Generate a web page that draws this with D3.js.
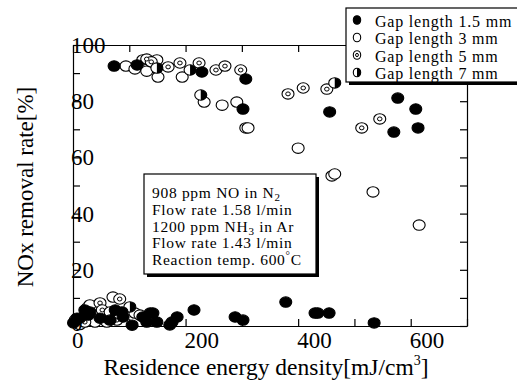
<!DOCTYPE html>
<html>
<head>
<meta charset="utf-8">
<script src="https://cdn.jsdelivr.net/npm/d3@7"></script>
<style>
  body { margin: 0; background: #fff; }
  svg { display: block; font-family: "Liberation Serif", "Times New Roman", serif; }
</style>
</head>
<body>
<div id="chart"></div>
<script>
// series (x: mJ/cm3, y: %)
const gap15X = [73, 114, 307, 302, 456, 577, 609, 570, 613, 229,
  378, 430, 435, 455, 535, 288, 302, 215, 142, 149, 176, 185, 172, 124, 131, 75, 87, 89, 137, 21, 27, 7, 1, 105, 48, 66];
const gap15Y = [92.5, 92.9, 87.9, 77.2, 76.2, 81.1, 77.2, 69, 70.5, 90.4,
  8.5, 4.6, 4.6, 4.6, 1.1, 3.2, 2.1, 5.7, 4.6, 1.4, 1.4, 3.2, 0.4, 3.2, 1.4, 5.7, 5, 3.2, 4.6, 5.7, 3.9, 2.8, 1.1, 0.3, 2.8, 2.1];

const gap3X = [94, 110, 124, 149, 131, 151, 194, 233, 265, 291, 307, 311, 400, 460, 465, 533, 615,
  71, 110, 25, 39, 12, 4, 30];
const gap3Y = [92.5, 91.5, 94.7, 94.7, 90.7, 88.6, 88.6, 79.7, 78.6, 79.7, 70.5, 70.5, 63.3, 53.4, 54.1, 47.7, 35.9,
  10.3, 4.6, 6.4, 1.4, 0.5, 2.1, 7.5];

const gap5X = [131, 139, 169, 190, 224, 254, 270, 298, 382, 409, 451, 513, 545,
  83, 48, 52, 60, 78, 119, 21];
const gap5Y = [95, 94, 92.2, 93.6, 93.6, 91.1, 92.5, 91.1, 82.6, 84.7, 84.3, 70.5, 73.7,
  9.6, 8.2, 5.7, 1.4, 2.1, 3.9, 1.4];

const gap7X = [149, 208, 227, 465, 101, 30, 66, 12];
const gap7Y = [91.8, 91.1, 82.2, 86.5, 6.8, 5, 5, 2.8];

const xTickLabels = [0, 200, 400, 600];
const yTickLabels = [0, 20, 40, 60, 80, 100];
const legendLabels = ['Gap length 1.5 mm', 'Gap length 3 mm', 'Gap length 5 mm', 'Gap length 7 mm'];
const conditionLines = ['908 ppm NO in N|2', 'Flow rate 1.58 l/min', '1200 ppm NH|3| in Ar', 'Flow rate 1.43 l/min', 'Reaction temp. 600|°|C'];

const width = 517, height = 382;
const plot = {left: 73, right: 467, top: 45, bottom: 326};

const svg = d3.select('#chart').append('svg')
  .attr('width', width)
  .attr('height', height);

const x = d3.scaleLinear().domain([0, 700]).range([plot.left, plot.right]);
const y = d3.scaleLinear().domain([0, 100]).range([plot.bottom, plot.top]);

// frame + inward ticks on all four sides
const tickLen = 7;
const xTicks = d3.range(0, 701, 100);
const yTicks = d3.range(0, 101, 10);

svg.append('g').attr('transform', `translate(0,${plot.bottom})`)
  .call(d3.axisBottom(x).tickValues(xTicks).tickSizeInner(-tickLen).tickSizeOuter(0).tickFormat(''));
svg.append('g').attr('transform', `translate(0,${plot.top})`)
  .call(d3.axisTop(x).tickValues(xTicks).tickSizeInner(-tickLen).tickSizeOuter(0).tickFormat(''));
svg.append('g').attr('transform', `translate(${plot.left},0)`)
  .call(d3.axisLeft(y).tickValues(yTicks).tickSizeInner(-tickLen).tickSizeOuter(0).tickFormat(''));
svg.append('g').attr('transform', `translate(${plot.right},0)`)
  .call(d3.axisRight(y).tickValues(yTicks).tickSizeInner(-tickLen).tickSizeOuter(0).tickFormat(''));
svg.selectAll('.domain, .tick line').attr('stroke', '#000').attr('stroke-width', 1.2);

// markers
const rx = 6, ry = 5.2;
const pts = (xs, ys) => xs.map((v, i) => ({x: v, y: ys[i]}));

function halfPath(cx, cy, a, b) {
  return `M${cx},${cy - b}A${a},${b} 0 0 1 ${cx},${cy + b}Z`;
}

function drawOpen(g, data, a, b) {
  g.selectAll(null).data(data).enter().append('ellipse')
    .attr('cx', d => x(d.x)).attr('cy', d => y(d.y))
    .attr('rx', a).attr('ry', b)
    .attr('fill', '#fff').attr('stroke', '#000').attr('stroke-width', 1.1);
}
function drawFilled(g, data, a, b) {
  g.selectAll(null).data(data).enter().append('ellipse')
    .attr('cx', d => x(d.x)).attr('cy', d => y(d.y))
    .attr('rx', a).attr('ry', b)
    .attr('fill', '#000').attr('stroke', '#000').attr('stroke-width', 1.1);
}
function drawRing(g, data, a, b) {
  drawOpen(g, data, a, b);
  g.selectAll(null).data(data).enter().append('ellipse')
    .attr('cx', d => x(d.x)).attr('cy', d => y(d.y))
    .attr('rx', a * 0.38).attr('ry', b * 0.38)
    .attr('fill', '#fff').attr('stroke', '#000').attr('stroke-width', 1);
}
function drawHalf(g, data, a, b) {
  drawOpen(g, data, a, b);
  g.selectAll(null).data(data).enter().append('path')
    .attr('d', d => halfPath(x(d.x), y(d.y), a, b))
    .attr('fill', '#000');
}

const marks = svg.append('g');
drawOpen(marks, pts(gap3X, gap3Y), rx, ry);
drawRing(marks, pts(gap5X, gap5Y), rx, ry);
drawHalf(marks, pts(gap7X, gap7Y), rx, ry);
drawFilled(marks, pts(gap15X, gap15Y), rx, ry);

// tick labels (start-anchored at the tick, as in the original)
svg.append('g').selectAll('text').data(xTickLabels).enter().append('text')
  .attr('x', d => x(d) - 1).attr('y', plot.bottom + 22)
  .attr('font-size', 23).text(d => d);
svg.append('g').selectAll('text').data(yTickLabels).enter().append('text')
  .attr('x', plot.left - 2).attr('y', d => y(d) + (d === 0 ? 5 : 8))
  .attr('font-size', 23).text(d => d);

// axis titles
const xt = svg.append('text').attr('x', 266).attr('y', 375)
  .attr('text-anchor', 'middle').attr('font-size', 23.5);
xt.append('tspan').text('Residence energy density[mJ/cm');
xt.append('tspan').attr('font-size', 14).attr('dy', -10).text('3');
xt.append('tspan').attr('dy', 10).text(']');

svg.append('text')
  .attr('transform', 'translate(33,187) rotate(-90)')
  .attr('text-anchor', 'middle').attr('font-size', 23)
  .text('NOx removal rate[%]');

// conditions box
const box = {x: 144, y: 174, w: 172, h: 100};
svg.append('rect').attr('x', box.x + 3).attr('y', box.y + 3)
  .attr('width', box.w).attr('height', box.h).attr('fill', '#000');
svg.append('rect').attr('x', box.x).attr('y', box.y)
  .attr('width', box.w).attr('height', box.h)
  .attr('fill', '#fff').attr('stroke', '#000').attr('stroke-width', 1.2);

conditionLines.forEach((line, i) => {
  const t = svg.append('text').attr('x', box.x + 8).attr('y', 198 + i * 16.75)
    .attr('font-size', 15.5).attr('letter-spacing', 0.7);
  const parts = line.split('|');
  parts.forEach((p, j) => {
    if (j % 2 === 0) {
      t.append('tspan').attr('dy', j ? (parts[j - 1] === '°' ? 6 : -3) : 0).text(p);
    } else if (p === '°') {
      t.append('tspan').attr('font-size', 11).attr('dy', -6).text(p);
    } else {
      t.append('tspan').attr('font-size', 11).attr('dy', 3).text(p);
    }
  });
});

// legend
const lg = {x: 346, y: 8, w: 180, h: 74};
svg.append('rect').attr('x', lg.x + 3).attr('y', lg.y + 3)
  .attr('width', lg.w).attr('height', lg.h).attr('fill', '#000');
svg.append('rect').attr('x', lg.x).attr('y', lg.y)
  .attr('width', lg.w).attr('height', lg.h)
  .attr('fill', '#fff').attr('stroke', '#000').attr('stroke-width', 1.2);

const legendDraw = [drawFilled, drawOpen, drawRing, drawHalf];
legendLabels.forEach((label, i) => {
  const cy = 20 + i * 17.5;
  const g = svg.append('g');
  legendDraw[i](g, [{x: x.invert(357), y: y.invert(cy)}], 3.7, 4.3);
  svg.append('text').attr('x', 375).attr('y', cy + 6.5)
    .attr('font-size', 16).attr('letter-spacing', 0.8).text(label);
});
</script>
</body>
</html>
